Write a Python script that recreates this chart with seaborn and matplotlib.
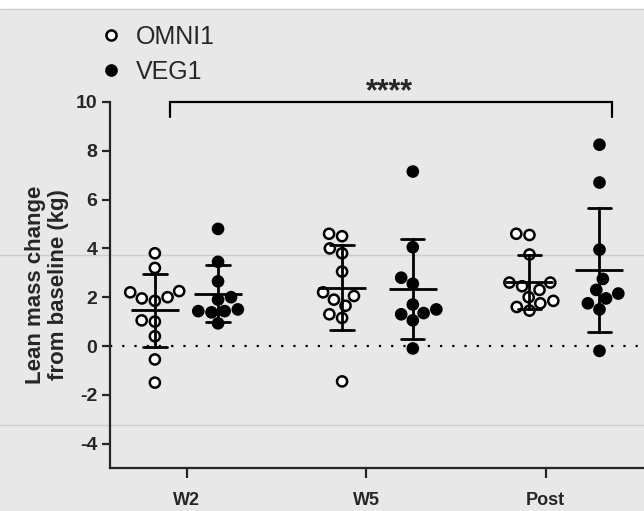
import numpy as np
import pandas as pd
import seaborn as sns
import matplotlib
matplotlib.use("Agg")
import matplotlib.pyplot as plt
from matplotlib.patches import Rectangle
from matplotlib.lines import Line2D

# ---- data ----
timepoints = ["W2", "W5", "Post"]
groups = ["OMNI1", "VEG1"]
omni_w2 = [3.8, 3.2, 2.25, 2.2, 2.0, 1.95, 1.85, 1.05, 1.0, 0.4, -0.55, -1.5]
veg_w2 = [4.8, 3.45, 2.65, 2.0, 1.9, 1.5, 1.43, 1.43, 1.38, 0.93]
omni_w5 = [4.6, 4.5, 4.0, 3.8, 3.05, 2.2, 2.05, 1.9, 1.65, 1.3, 1.15, -1.45]
veg_w5 = [7.15, 4.05, 2.8, 2.55, 1.7, 1.5, 1.35, 1.3, 1.05, -0.1]
omni_post = [4.6, 4.55, 3.75, 2.6, 2.6, 2.45, 2.3, 2.0, 1.85, 1.75, 1.6, 1.45]
veg_post = [8.25, 6.7, 3.95, 2.75, 2.3, 2.15, 1.95, 1.75, 1.5, -0.2]
sig_label = "****"

# layout: horizontal offset of each group's column around its tick
group_offsets = {"W2": (-0.177, 0.175), "W5": (-0.134, 0.26), "Post": (-0.09, 0.30)}

series = {
    ("W2", "OMNI1"): omni_w2, ("W2", "VEG1"): veg_w2,
    ("W5", "OMNI1"): omni_w5, ("W5", "VEG1"): veg_w5,
    ("Post", "OMNI1"): omni_post, ("Post", "VEG1"): veg_post,
}
rows = []
for ti, t in enumerate(timepoints):
    for gi, g in enumerate(groups):
        pos = ti + group_offsets[t][gi]
        for v in series[(t, g)]:
            rows.append({"time": t, "group": g, "pos": pos, "value": v})
df = pd.DataFrame(rows)

sns.set_theme(style="ticks")
plt.rcParams["font.family"] = ["Liberation Sans", "DejaVu Sans"]
plt.rcParams["axes.linewidth"] = 1.6

bg = "#e8e8e8"
fig = plt.figure(figsize=(6.44, 5.11), dpi=100, facecolor=bg)
ax = fig.add_axes([0.1708, 0.0841, 0.8292, 0.7163])
ax.set_facecolor("none")

# background decoration (plank lines / top strip)
fig.patches.append(Rectangle((0, 1 - 8 / 511), 1, 8 / 511, transform=fig.transFigure,
                             color="white", zorder=-10))
for ypx in (9, 255, 425):
    fig.add_artist(Line2D([0, 1], [1 - ypx / 511] * 2, transform=fig.transFigure,
                          color="#cdcdcd", lw=1.0, zorder=-9))

ax.axhline(0, color="black", lw=1.6, ls=(0, (1, 4.5)), zorder=1)

sns.swarmplot(data=df, x="pos", y="value", hue="group", hue_order=groups,
              native_scale=True, orient="x", ax=ax, size=7.3,
              palette={"OMNI1": "white", "VEG1": "black"},
              edgecolor="black", linewidth=1.8, zorder=3)

sns.pointplot(data=df, x="pos", y="value", native_scale=True, orient="x", ax=ax,
              errorbar="sd", capsize=0.37, color="black", marker="_",
              markersize=34, markeredgewidth=2.0, linestyle="none",
              err_kws={"linewidth": 2.0}, legend=False, zorder=4)

ax.set_xlim(-0.427, 2.548)
ax.set_ylim(-5, 10)
ax.set_yticks(np.arange(-4, 11, 2))
ax.set_yticklabels([str(v) for v in range(-4, 11, 2)], fontsize=14, fontweight="bold")
ax.set_xticks(range(len(timepoints)))
ax.set_xticklabels(timepoints, fontsize=13, fontweight="bold")
ax.tick_params(axis="y", length=6, width=1.6, pad=3)
ax.tick_params(axis="x", length=7, width=1.6, pad=10)
ax.set_xlabel("")
ax.set_ylabel("Lean mass change\nfrom baseline (kg)", fontsize=16, fontweight="bold",
              labelpad=5, linespacing=1.15)
sns.despine(ax=ax, top=True, right=True)

# significance bracket
bx0, bx1, by, bdrop = -0.093, 2.368, 10.0, 0.6
ax.plot([bx0, bx0, bx1, bx1], [by - bdrop, by, by, by - bdrop], color="black",
        lw=1.6, clip_on=False, solid_joinstyle="miter")
ax.text(1.13, 10.07, sig_label, ha="center", va="baseline", fontsize=22,
        fontweight="bold", clip_on=False)

sns.move_legend(ax, "upper left", bbox_to_anchor=(98 / 644, 1 - 25 / 511),
                bbox_transform=fig.transFigure, frameon=False, title=None,
                fontsize=18, borderpad=0, handlelength=1.0, handletextpad=0.5,
                labelspacing=0.45, borderaxespad=0)

fig.savefig("out.png", dpi=100, facecolor=bg)
